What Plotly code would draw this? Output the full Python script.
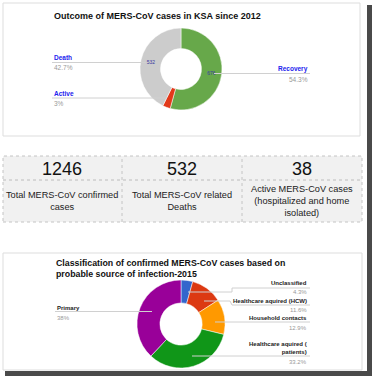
import plotly.graph_objects as go

W, H = 372, 376

# ---------------- data ----------------
outcome_labels = ["Recovery", "Active", "Death"]
outcome_values = [676, 38, 532]
outcome_pct = ["54.3%", "3%", "42.7%"]
outcome_colors = ["#67a84a", "#e2391a", "#cccccc"]

kpi_values = ["1246", "532", "38"]
kpi_labels = ["Total MERS-CoV confirmed<br>cases",
              "Total MERS-CoV related<br>Deaths",
              "Active MERS-CoV cases<br>(hospitalized and home<br>isolated)"]

source_labels = ["Unclassified", "Healthcare aquired (HCW)", "Household contacts",
                 "Healthcare aquired (<br>patients)", "Primary"]
source_values = [4.3, 11.6, 12.9, 33.2, 38.0]
source_pct = ["4.3%", "11.6%", "12.9%", "33.2%", "38%"]
source_colors = ["#3366cc", "#dc3912", "#ff9900", "#109618", "#990099"]

FONT = "Liberation Sans, Arial, sans-serif"


def px(x):
    return x / W


def py(y):
    return 1 - y / H


fig = go.Figure()

# Donut 1
fig.add_trace(go.Pie(
    labels=outcome_labels, values=outcome_values,
    marker=dict(colors=outcome_colors, line=dict(color="white", width=0.5)),
    hole=0.5, sort=False, direction="clockwise", rotation=0,
    text=[str(outcome_values[0]), "", str(outcome_values[2])],
    textinfo="text", textposition="inside", insidetextorientation="horizontal",
    textfont=dict(size=5, color="#3a3aa0", family=FONT),
    domain=dict(x=[px(140), px(222)], y=[py(110), py(28)]),
    showlegend=False, hoverinfo="label+percent",
))

# Donut 2
fig.add_trace(go.Pie(
    labels=source_labels, values=source_values,
    marker=dict(colors=source_colors, line=dict(color="white", width=0.5)),
    hole=0.48, sort=False, direction="clockwise", rotation=0,
    textinfo="none",
    domain=dict(x=[px(137), px(225)], y=[py(368), py(280)]),
    showlegend=False, hoverinfo="label+percent",
))

shapes = []
annotations = []

# panel frames
shapes.append(dict(type="rect", xref="paper", yref="paper",
                   x0=px(3), x1=px(360), y0=py(136), y1=py(3),
                   line=dict(color="#dddddd", width=1), layer="below"))
shapes.append(dict(type="rect", xref="paper", yref="paper",
                   x0=px(3), x1=px(362), y0=py(370), y1=py(253),
                   line=dict(color="#dddddd", width=1), layer="below"))
# screenshot shadow
shapes.append(dict(type="rect", xref="paper", yref="paper",
                   x0=px(367), x1=px(372), y0=py(376), y1=py(5),
                   fillcolor="#4a4a4a", line=dict(width=0)))
shapes.append(dict(type="rect", xref="paper", yref="paper",
                   x0=px(5), x1=px(372), y0=py(376), y1=py(371),
                   fillcolor="#4a4a4a", line=dict(width=0)))

# titles
annotations.append(dict(text="<b>Outcome of MERS-CoV cases in KSA since 2012</b>",
                        x=px(52), y=py(16), xref="paper", yref="paper",
                        xanchor="left", yanchor="middle", showarrow=False,
                        font=dict(size=9, color="#111111", family=FONT)))
annotations.append(dict(text="<b>Classification of confirmed MERS-CoV cases based on<br>probable source of infection-2015</b>",
                        x=px(54), y=py(268), xref="paper", yref="paper",
                        xanchor="left", yanchor="middle", align="left", showarrow=False,
                        font=dict(size=8.8, color="#111111", family=FONT)))

LINE = dict(color="#d0d0d0", width=1)


def label(txt, pct, x, y, anchor, color):
    annotations.append(dict(text="<b>" + txt + "</b>", x=px(x), y=py(y), xref="paper", yref="paper",
                            xanchor=anchor, yanchor="middle", showarrow=False,
                            align="right" if anchor == "right" else "left",
                            font=dict(size=6.5, color=color, family=FONT)))
    annotations.append(dict(text=pct, x=px(x), y=py(y + 10), xref="paper", yref="paper",
                            xanchor=anchor, yanchor="middle", showarrow=False,
                            font=dict(size=6.5, color="#999999", family=FONT)))


def path(pts):
    d = "M " + " L ".join(f"{px(a)},{py(b)}" for a, b in pts)
    shapes.append(dict(type="path", xref="paper", yref="paper", path=d, line=LINE))


# donut 1 labels
label(outcome_labels[2], outcome_pct[2], 52, 57, "left", "#2222ee")
path([(52, 62.5), (146, 62.5)])
label(outcome_labels[1], outcome_pct[1], 52, 93, "left", "#2222ee")
path([(52, 98), (167, 98)])
label(outcome_labels[0], outcome_pct[0], 310, 69, "right", "#2222ee")
path([(214, 73.5), (310, 73.5)])

# donut 2 labels
lab_y = [283, 301, 318, 347.5, 308]
pct_y = [292, 310, 328, 362, 318]
for i in range(5):
    if i == 4:
        xa, anc = 55, "left"
    else:
        xa, anc = 309, "right"
    annotations.append(dict(text="<b>" + source_labels[i] + "</b>", x=px(xa), y=py(lab_y[i]),
                            xref="paper", yref="paper", xanchor=anc, yanchor="middle",
                            align=anc, showarrow=False,
                            font=dict(size=6, color="#222222", family=FONT)))
    annotations.append(dict(text=source_pct[i], x=px(xa), y=py(pct_y[i]),
                            xref="paper", yref="paper", xanchor=anc, yanchor="middle",
                            showarrow=False, font=dict(size=6, color="#999999", family=FONT)))

path([(188, 292), (232, 292), (232, 288), (310, 288)])
path([(204, 301), (230, 301), (232, 305), (310, 305)])
path([(215, 322), (310, 322)])
path([(192, 356), (310, 356)])
path([(55, 311.5), (152, 311.5)])

# KPI table
shapes.append(dict(type="rect", xref="paper", yref="paper",
                   x0=px(3), x1=px(362), y0=py(222), y1=py(156),
                   fillcolor="#f1f1f1", line=dict(color="#c4c4c4", width=1, dash="dot"), layer="below"))
for xc in [122, 242]:
    shapes.append(dict(type="line", xref="paper", yref="paper",
                       x0=px(xc), x1=px(xc), y0=py(222), y1=py(156),
                       line=dict(color="#c4c4c4", width=1, dash="dot")))
shapes.append(dict(type="line", xref="paper", yref="paper",
                   x0=px(3), x1=px(362), y0=py(180), y1=py(180),
                   line=dict(color="#bcbcbc", width=1, dash="dot")))
centers = [62.5, 182, 302]
for i in range(3):
    annotations.append(dict(text=kpi_values[i], x=px(centers[i]), y=py(169),
                            xref="paper", yref="paper", xanchor="center", yanchor="middle",
                            showarrow=False, font=dict(size=18, color="#111111", family=FONT)))
    annotations.append(dict(text=kpi_labels[i], x=px(centers[i]), y=py(201),
                            xref="paper", yref="paper", xanchor="center", yanchor="middle",
                            showarrow=False, align="center",
                            font=dict(size=9.2, color="#222222", family=FONT)))

fig.update_layout(
    width=W, height=H, margin=dict(l=0, r=0, t=0, b=0),
    paper_bgcolor="white", plot_bgcolor="white",
    shapes=shapes, annotations=annotations,
    font=dict(family=FONT),
)

fig.write_html("out.html", config={"displayModeBar": False},
               post_script="document.body.style.margin='0';document.body.style.overflow='hidden';")
